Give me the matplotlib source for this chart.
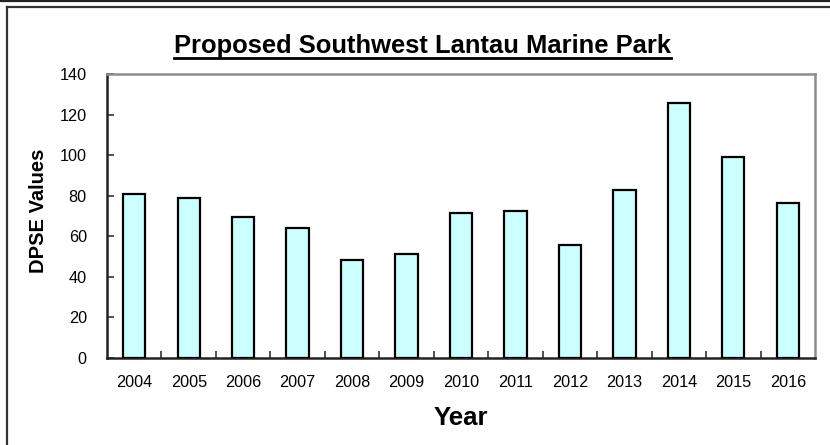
import matplotlib
matplotlib.use('Agg')
import matplotlib.pyplot as plt
from matplotlib.lines import Line2D
import numpy as np

plt.rcParams['font.family'] = ['Liberation Sans', 'DejaVu Sans']

# Данные
years = ['2004', '2005', '2006', '2007', '2008', '2009', '2010',
         '2011', '2012', '2013', '2014', '2015', '2016']
dpse_values = [80.6, 78.7, 69.3, 64.3, 48.2, 51.2, 71.5,
               72.7, 55.6, 83.0, 125.7, 99.3, 76.2]
y_ticks = [0, 20, 40, 60, 80, 100, 120, 140]

title_text = 'Proposed Southwest Lantau Marine Park'

W, H = 830, 445
fig = plt.figure(figsize=(W / 100, H / 100), dpi=100)
fig.patch.set_facecolor('white')

# Область построения
ax = fig.add_axes([107 / W, 1 - 358 / H, (815 - 107) / W, (358 - 74) / H])

x = np.arange(len(years))
ax.bar(x, dpse_values, width=0.41, color='#CCFFFF', edgecolor='black',
       linewidth=1.6, zorder=3)

ax.set_xlim(-0.5, len(years) - 0.5)
ax.set_ylim(0, 140)
ax.set_yticks(y_ticks)

# Подписи по центру категорий, засечки на границах
ax.set_xticks(x)
ax.set_xticklabels(years)
ax.set_xticks(np.arange(0.5, len(years) - 0.5, 1), minor=True)
ax.tick_params(axis='x', which='major', length=0, pad=12, labelsize=11.7)
ax.tick_params(axis='x', which='minor', direction='in', length=5,
               width=1.2, color='#333333')
ax.tick_params(axis='y', direction='in', length=5, width=1.2,
               color='#333333', pad=14.5, labelsize=11.7)

for side in ['left', 'bottom']:
    ax.spines[side].set_color('#222222')
    ax.spines[side].set_linewidth(1.8)
for side in ['top', 'right']:
    ax.spines[side].set_color('#8c8c8c')
    ax.spines[side].set_linewidth(1.8)

ax.set_ylabel('DPSE Values', fontsize=14.5, fontweight='bold', va='center')
ax.yaxis.set_label_coords((38.8 - 107) / 708, 0.52)
ax.set_xlabel('Year', fontsize=18.5, fontweight='bold', va='center')
ax.xaxis.set_label_coords(0.5, (358 - 418) / 284)

# Заголовок с подчеркиванием
title = fig.text(422.5 / W, 1 - 53.5 / H, title_text, fontsize=18.4,
                 fontweight='bold', ha='center', va='baseline')
fig.canvas.draw()
bb = title.get_window_extent()
y_line = 1 - 58 / H
fig.add_artist(Line2D([bb.x0 / W, bb.x1 / W], [y_line, y_line],
                      transform=fig.transFigure, color='black', linewidth=2))

# Рамка диаграммы
fig.add_artist(Line2D([0, 1], [1 - 0.8 / H, 1 - 0.8 / H],
                      transform=fig.transFigure, color='#222222', linewidth=1.6))
fig.add_artist(Line2D([7 / W, 1], [1 - 7 / H, 1 - 7 / H],
                      transform=fig.transFigure, color='#333333', linewidth=1.6))
fig.add_artist(Line2D([7 / W, 7 / W], [1 - 7 / H, 0],
                      transform=fig.transFigure, color='#333333', linewidth=1.6))

fig.savefig('out.png', dpi=100)
